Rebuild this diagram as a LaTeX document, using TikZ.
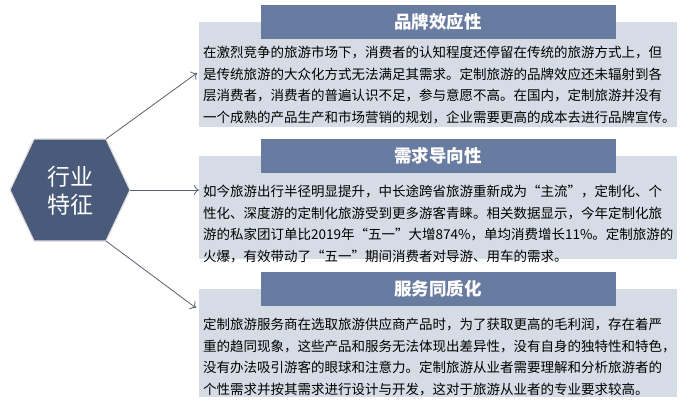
\documentclass[tikz,border=0pt]{standalone}
\usepackage{fontspec}
\newfontfamily\cjk{Noto Sans CJK SC}
\usepackage{tikz}
\usetikzlibrary{positioning,arrows.meta}
\definecolor{hexblue}{HTML}{4A5A7A}
\definecolor{headblue}{HTML}{687BA0}
\definecolor{panelgray}{HTML}{D6DCE5}
\definecolor{linegray}{HTML}{5A5F6B}
\tikzset{
  hexa/.style={fill=hexblue,draw=gray!25,line width=1.2pt},
  hexlabel/.style={text=white,align=center,font=\cjk\fontsize{23}{28}\selectfont},
  panel/.style={fill=panelgray,minimum width=478pt,inner sep=0pt},
  head/.style={fill=headblue,text=white,minimum width=355pt,minimum height=34pt,inner sep=0pt,font=\cjk\bfseries\fontsize{17.5}{20}\selectfont},
  body/.style={anchor=north west,inner sep=0pt,align=left,font=\cjk\fontsize{13.5}{21.5}\selectfont},
  branch/.style={draw=linegray,line width=0.8pt,-{To[length=5pt,width=10pt]}}
}

\begin{document}
\begin{tikzpicture}[x=1pt,y=-1pt]
      \useasboundingbox (0,0) rectangle (689,405);
      % hexagon
      \coordinate (hw) at (10,190);
      \coordinate (hnw) at (34,139);
      \coordinate (hne) at (106,139);
      \coordinate (he) at (130,190);
      \coordinate (hse) at (106,241);
      \coordinate (hsw) at (34,241);
      \filldraw[hexa] (hw) -- (hnw) -- (hne) -- (he) -- (hse) -- (hsw) -- cycle;
      \node[hexlabel] (core) at (70,191) {行业\\特征};
      % panels
      \node[panel,minimum height=105pt] (pin1) at (438,74.5) {};
      \node[panel,minimum height=103pt] (pin2) at (438,207.5) {};
      \node[panel,minimum height=108pt] (pin3) at (438,343) {};
      \node[head] (h1) at (pin1.north) {品牌效应性};
      \node[head] (h2) at (pin2.north) {需求导向性};
      \node[head] (h3) at (pin3.north) {服务同质化};
      \node[body] (b1) at (203,46) {在激烈竞争的旅游市场下，消费者的认知程度还停留在传统的旅游方式上，但\\
        是传统旅游的大众化方式无法满足其需求。定制旅游的品牌效应还未辐射到各\\
        层消费者，消费者的普遍认识不足，参与意愿不高。在国内，定制旅游并没有\\
        一个成熟的产品生产和市场营销的规划，企业需要更高的成本去进行品牌宣传。};
      \node[body] (b2) at (203,185) {如今旅游出行半径明显提升，中长途跨省旅游重新成为“主流”，定制化、个\\
        性化、深度游的定制化旅游受到更多游客青睐。相关数据显示，今年定制化旅\\
        游的私家团订单比2019年“五一”大增874\%，单均消费增长11\%。定制旅游的\\
        火爆，有效带动了“五一”期间消费者对导游、用车的需求。};
      \node[body] (b3) at (203,318) {定制旅游服务商在选取旅游供应商产品时，为了获取更高的毛利润，存在着严\\
        重的趋同现象，这些产品和服务无法体现出差异性，没有自身的独特性和特色，\\
        没有办法吸引游客的眼球和注意力。定制旅游从业者需要理解和分析旅游者的\\
        个性需求并按其需求进行设计与开发，这对于旅游从业者的专业要求较高。};
      % branches
      \coordinate (t1) at (197,73);
      \coordinate (t2) at (199,190);
      \coordinate (t3) at (196,308);
      \draw[branch] (hne) -- (t1);
      \draw[branch] (he) -- (t2);
      \draw[branch] (hse) -- (t3);
    \end{tikzpicture}
\end{document}
